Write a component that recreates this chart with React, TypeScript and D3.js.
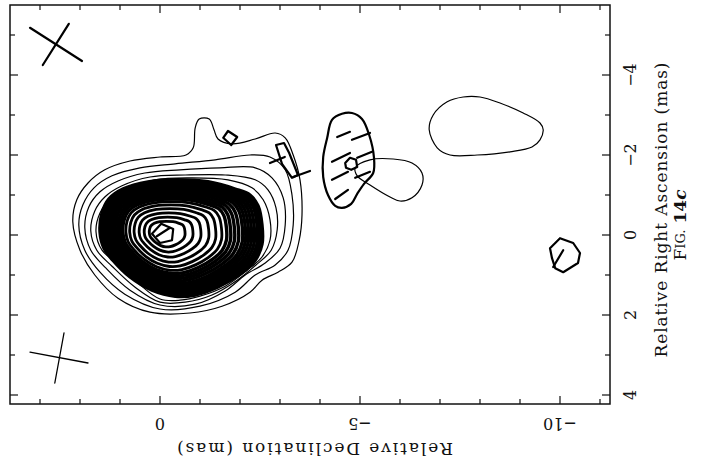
import React from "react";
import * as d3 from "d3";

type Pt = [number, number];

// All positions are [relative declination, relative right ascension] in mas.

// Total-intensity contours around the core–jet, outermost first.
const outerContours: Pt[][] = [
  [[2.18, -0.33], [2.08, -0.88], [1.8, -1.3], [1.38, -1.63], [0.75, -1.85], [0, -1.95], [-0.65, -2.0],
   [-0.83, -2.18], [-0.88, -2.68], [-0.98, -2.9], [-1.23, -2.9], [-1.35, -2.63], [-1.45, -2.4],
   [-1.8, -2.28], [-2.38, -2.4], [-2.88, -2.55], [-3.13, -2.43], [-3.33, -2.0], [-3.5, -1.38],
   [-3.55, -0.5], [-3.48, 0.13], [-3.3, 0.68], [-2.95, 0.93], [-2.55, 1.13], [-2.25, 1.43],
   [-1.55, 1.78], [-0.75, 1.95], [0.25, 1.93], [1.05, 1.58], [1.63, 1.0], [2.0, 0.38]],
  [[2.03, -0.25], [1.93, -0.75], [1.65, -1.18], [1.2, -1.48], [0.5, -1.68], [-0.38, -1.78],
   [-1.38, -1.88], [-2.25, -2.0], [-2.75, -1.95], [-3.13, -1.63], [-3.3, -1.0], [-3.33, -0.25],
   [-3.2, 0.38], [-2.88, 0.75], [-2.38, 1.0], [-1.88, 1.43], [-1.0, 1.78], [0, 1.85],
   [0.88, 1.48], [1.5, 0.93], [1.88, 0.38]],
  [[1.88, -0.18], [1.78, -0.7], [1.5, -1.08], [1.05, -1.35], [0.38, -1.55], [-0.5, -1.63],
   [-1.5, -1.68], [-2.38, -1.68], [-2.8, -1.43], [-3.08, -0.93], [-3.13, -0.25], [-3.0, 0.33],
   [-2.63, 0.7], [-2.13, 1.0], [-1.63, 1.4], [-0.88, 1.73], [0, 1.75], [0.75, 1.38],
   [1.35, 0.83], [1.73, 0.38]],
  [[1.73, -0.1], [1.63, -0.6], [1.38, -0.95], [0.95, -1.23], [0.25, -1.45], [-0.63, -1.5],
   [-1.63, -1.5], [-2.38, -1.38], [-2.7, -1.13], [-2.9, -0.68], [-2.93, -0.13], [-2.78, 0.38],
   [-2.4, 0.75], [-1.93, 1.13], [-1.3, 1.5], [-0.63, 1.68], [0, 1.68], [0.63, 1.3],
   [1.2, 0.78], [1.58, 0.38]],
  [[1.6, -0.08], [1.5, -0.55], [1.25, -0.88], [0.85, -1.13], [0.13, -1.38], [-0.75, -1.43],
   [-1.7, -1.38], [-2.3, -1.18], [-2.58, -0.88], [-2.75, -0.38], [-2.75, 0.13], [-2.55, 0.55],
   [-2.18, 0.88], [-1.63, 1.28], [-1.0, 1.53], [-0.5, 1.63], [0, 1.6], [0.55, 1.2],
   [1.08, 0.7], [1.45, 0.38]],
];

// Edge of the densely packed contours of the bright core region.
const coreEnvelope: Pt[] = [
  [1.5, -0.08], [1.45, -0.55], [1.28, -0.9], [0.93, -1.15], [0.3, -1.33], [-0.45, -1.38],
  [-1.2, -1.33], [-1.88, -1.15], [-2.25, -1.0], [-2.45, -0.73], [-2.55, -0.25], [-2.55, 0.23],
  [-2.38, 0.63], [-2.0, 0.98], [-1.45, 1.3], [-0.88, 1.5], [-0.38, 1.53], [0.2, 1.38],
  [0.75, 1.05], [1.18, 0.63], [1.4, 0.33],
];
const corePeak: Pt = [-0.08, -0.05];
// Nested core contours, as fractions of the envelope size about the peak.
const coreRingScales = [0.22, 0.3, 0.38, 0.46, 0.53, 0.59, 0.64, 0.68, 0.72, 0.76, 0.8, 0.83, 0.86, 0.89, 0.92, 0.95, 0.975, 1.0];

// Faint jet features (lowest contour).
const jetLobe: Pt[] = [
  [-4.88, -1.68], [-5.25, -1.88], [-5.83, -1.9], [-6.3, -1.8], [-6.55, -1.55], [-6.55, -1.25],
  [-6.3, -0.93], [-6.0, -0.85], [-5.75, -0.95], [-5.25, -1.25], [-4.93, -1.48],
];
const jetCloud: Pt[] = [
  [-6.73, -2.63], [-6.83, -3.0], [-7.18, -3.33], [-7.58, -3.45], [-8.0, -3.45], [-8.5, -3.3],
  [-9.08, -3.05], [-9.5, -2.8], [-9.58, -2.63], [-9.5, -2.38], [-9.3, -2.2], [-8.75, -2.08],
  [-7.93, -2.0], [-7.25, -2.0], [-6.93, -2.18],
];

// Polarized-intensity contours.
const polCore: Pt[] = [[0.2, -0.03], [-0.03, -0.28], [-0.33, -0.15], [-0.3, 0.13], [0, 0.2]];
const polKnotA: Pt[] = [[-1.7, -2.6], [-1.93, -2.45], [-1.78, -2.25], [-1.58, -2.43]];
const polKnotB: Pt[] = [[-2.9, -2.25], [-3.1, -2.3], [-3.23, -2.05], [-3.45, -1.5], [-3.3, -1.43], [-3.05, -1.78], [-2.98, -2.0]];
const polKnotC: Pt[] = [[-4.63, -1.8], [-4.75, -1.93], [-4.9, -1.88], [-4.93, -1.7], [-4.78, -1.63], [-4.65, -1.68]];
const polKnotD: Pt[] = [[-9.75, 0.33], [-10.0, 0.08], [-10.33, 0.2], [-10.5, 0.45], [-10.45, 0.7], [-10.08, 0.93], [-9.88, 0.83], [-9.8, 0.58]];
const polOval: Pt[] = [
  [-4.3, -2.88], [-4.55, -3.03], [-4.8, -3.05], [-5.05, -2.9], [-5.23, -2.5], [-5.35, -1.93],
  [-5.33, -1.55], [-5.1, -1.28], [-4.93, -1.03], [-4.78, -0.78], [-4.55, -0.68], [-4.38, -0.73],
  [-4.2, -1.0], [-4.08, -1.45], [-4.08, -1.95], [-4.18, -2.43],
];

// Polarization E-vectors.
const polVectors: [Pt, Pt][] = [
  [[0.08, 0.03], [-0.25, -0.18]],
  [[-2.75, -1.8], [-3.12, -1.95]],
  [[-3.33, -1.45], [-3.75, -1.6]],
  [[-4.43, -2.45], [-4.75, -2.58]],
  [[-4.8, -2.38], [-5.25, -2.55]],
  [[-4.3, -1.83], [-4.75, -2.05]],
  [[-4.93, -1.93], [-5.3, -2.08]],
  [[-4.3, -1.38], [-4.7, -1.58]],
  [[-4.88, -1.43], [-5.25, -1.58]],
  [[-4.38, -0.9], [-4.7, -1.13]],
  [[-9.83, 0.8], [-10.08, 0.38]],
];

// Restoring beams (major and minor axes).
const beamPol: [Pt, Pt][] = [
  [[3.25, -5.18], [1.95, -4.35]],
  [[2.93, -4.25], [2.28, -5.28]],
];
const beamTotal: [Pt, Pt][] = [
  [[3.25, 2.93], [1.8, 3.2]],
  [[2.4, 2.45], [2.63, 3.7]],
];

const decTickLabels = [0, -5, -10];
const raTickLabels = [4, 2, 0, -2, -4];
const decTicks = d3.range(-11, 4);
const raTicks = d3.range(-5, 5);

const W = 702;
const H = 468;
const frame = { left: 10, right: 610, top: 5, bottom: 404 };

const decScale = d3.scaleLinear().domain([3.75, -11.25]).range([frame.left, frame.right]);
const raScale = d3.scaleLinear().domain([-5.75, 4.225]).range([frame.top, frame.bottom]);

const smooth = d3.line<Pt>().x((d) => decScale(d[0])).y((d) => raScale(d[1])).curve(d3.curveCatmullRomClosed.alpha(0.5));
const poly = d3.line<Pt>().x((d) => decScale(d[0])).y((d) => raScale(d[1])).curve(d3.curveLinearClosed);

const ring = (s: number): Pt[] =>
  coreEnvelope.map(([d, r]) => [corePeak[0] + s * (d - corePeak[0]), corePeak[1] + s * (r - corePeak[1])] as Pt);

const fmt = (v: number) => (v < 0 ? "\u2212" + Math.abs(v) : String(v));

const serif = "'DejaVu Serif', 'Liberation Serif', serif";

export default function App() {
  const seg = (s: [Pt, Pt], i: number, w: number) => (
    <line key={i} x1={decScale(s[0][0])} y1={raScale(s[0][1])} x2={decScale(s[1][0])} y2={raScale(s[1][1])}
      stroke="#000" strokeWidth={w} strokeLinecap="round" />
  );
  return (
    <svg width={W} height={H} style={{ position: "absolute", left: 0, top: 0, background: "#fff" }}>
      <rect x={0} y={0} width={W} height={H} fill="#fff" />
      {/* frame and ticks */}
      <rect x={frame.left} y={frame.top} width={frame.right - frame.left} height={frame.bottom - frame.top}
        fill="none" stroke="#111" strokeWidth={1.5} />
      {decTicks.map((v) => {
        const x = decScale(v);
        const len = v % 5 === 0 ? 8 : 5;
        return (
          <g key={"d" + v}>
            <line x1={x} x2={x} y1={frame.bottom} y2={frame.bottom - len} stroke="#111" strokeWidth={1.2} />
            <line x1={x} x2={x} y1={frame.top} y2={frame.top + len} stroke="#111" strokeWidth={1.2} />
          </g>
        );
      })}
      {raTicks.map((v) => {
        const y = raScale(v);
        const len = v % 2 === 0 ? 8 : 5;
        return (
          <g key={"r" + v}>
            <line x1={frame.left} x2={frame.left + len} y1={y} y2={y} stroke="#111" strokeWidth={1.2} />
            <line x1={frame.right} x2={frame.right - len} y1={y} y2={y} stroke="#111" strokeWidth={1.2} />
          </g>
        );
      })}

      {/* total intensity */}
      <g fill="none" stroke="#000">
        {outerContours.map((c, i) => (
          <path key={"o" + i} d={smooth(c) || ""} strokeWidth={1.2} />
        ))}
        {coreRingScales.map((s, i) => (
          <path key={"c" + i} d={smooth(ring(s)) || ""} strokeWidth={s > 0.6 ? 3.4 : 2.8} />
        ))}
        <path d={smooth(jetLobe) || ""} strokeWidth={1.2} />
        <path d={smooth(jetCloud) || ""} strokeWidth={1.2} />
      </g>

      {/* polarized intensity */}
      <g fill="none" stroke="#000" strokeWidth={2.2} strokeLinejoin="round">
        <path d={poly(polCore) || ""} />
        <path d={poly(polKnotA) || ""} />
        <path d={poly(polKnotB) || ""} />
        <path d={poly(polKnotC) || ""} />
        <path d={poly(polKnotD) || ""} />
        <path d={smooth(polOval) || ""} />
      </g>
      {polVectors.map((s, i) => seg(s, i, 2.2))}

      {/* beams */}
      {beamPol.map((s, i) => seg(s, 100 + i, 2.2))}
      {beamTotal.map((s, i) => seg(s, 200 + i, 1.3))}

      {/* declination axis labels */}
      {decTickLabels.map((v) => (
        <text key={"dl" + v} transform={`translate(${decScale(v)},423) rotate(180)`} textAnchor="middle"
          dominantBaseline="central" fontFamily={serif} fontSize={16} fill="#111">
          {fmt(v)}
        </text>
      ))}
      <text transform="translate(315,449) rotate(180)" textAnchor="middle" dominantBaseline="central"
        fontFamily={serif} fontSize={17} fill="#111" textLength={276} lengthAdjust="spacing">
        Relative Declination (mas)
      </text>

      {/* right ascension axis labels */}
      {raTickLabels.map((v) => (
        <text key={"rl" + v} transform={`translate(630,${raScale(v)}) rotate(-90)`} textAnchor="middle"
          dominantBaseline="central" fontFamily={serif} fontSize={16} fill="#111">
          {fmt(v)}
        </text>
      ))}
      <text transform="translate(661,210) rotate(-90)" textAnchor="middle" dominantBaseline="central"
        fontFamily={serif} fontSize={17} fill="#111" textLength={295} lengthAdjust="spacing">
        Relative Right Ascension (mas)
      </text>
      <text transform="translate(680,225) rotate(-90)" textAnchor="middle" dominantBaseline="central"
        fontFamily={serif} fontSize={17} fill="#111">
        <tspan>F</tspan>
        <tspan fontSize={13}>IG.</tspan>
        <tspan fontWeight="bold" dx={6}>14</tspan>
        <tspan fontWeight="bold" fontStyle="italic">c</tspan>
      </text>
    </svg>
  );
}
